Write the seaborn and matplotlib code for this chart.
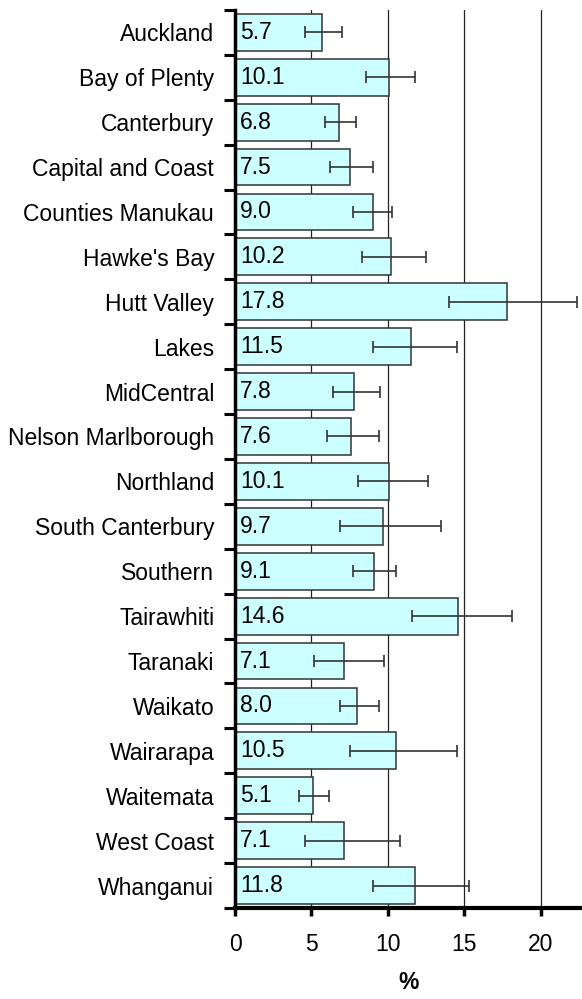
import numpy as np
import pandas as pd
import matplotlib
matplotlib.use("Agg")
import matplotlib.pyplot as plt
import seaborn as sns

regions = ["Auckland", "Bay of Plenty", "Canterbury", "Capital and Coast",
           "Counties Manukau", "Hawke's Bay", "Hutt Valley", "Lakes",
           "MidCentral", "Nelson Marlborough", "Northland", "South Canterbury",
           "Southern", "Tairawhiti", "Taranaki", "Waikato", "Wairarapa",
           "Waitemata", "West Coast", "Whanganui"]
rate = [5.7, 10.1, 6.8, 7.5, 9.0, 10.2, 17.8, 11.5, 7.8, 7.6,
        10.1, 9.7, 9.1, 14.6, 7.1, 8.0, 10.5, 5.1, 7.1, 11.8]
ci_low = [4.6, 8.6, 5.9, 6.2, 7.75, 8.3, 14.0, 9.05, 6.4, 6.0,
          8.05, 6.85, 7.75, 11.6, 5.2, 6.85, 7.5, 4.2, 4.6, 9.0]
ci_high = [7.0, 11.8, 7.9, 9.0, 10.3, 12.5, 22.35, 14.5, 9.5, 9.45,
           12.6, 13.45, 10.55, 18.15, 9.75, 9.45, 14.5, 6.15, 10.8, 15.3]

df = pd.DataFrame({"region": regions, "rate": rate})

sns.set_style("white")
plt.rcParams["font.family"] = ["Liberation Sans", "DejaVu Sans"]
plt.rcParams["text.color"] = "black"
plt.rcParams["xtick.color"] = "black"
plt.rcParams["ytick.color"] = "black"
plt.rcParams["axes.labelcolor"] = "black"

fig = plt.figure(figsize=(5.82, 9.99), dpi=100)
ax = fig.add_axes([0.4038, 0.0911, 0.5962, 0.899])

for g in [5, 10, 15, 20]:
    ax.axvline(g, color="#222222", lw=0.9, zorder=0)

sns.barplot(data=df, x="rate", y="region", orient="h", color="#CCFFFF",
            edgecolor="#333333", linewidth=1.1, width=0.82, errorbar=None,
            saturation=1, ax=ax, zorder=2)

err = np.array([np.array(rate) - np.array(ci_low), np.array(ci_high) - np.array(rate)])
ax.errorbar(rate, np.arange(len(regions)), xerr=err, fmt="none", ecolor="#333333",
            elinewidth=1.2, capsize=4, capthick=1.2, zorder=3)

for i, v in enumerate(rate):
    ax.text(0.35, i, f"{v:.1f}", va="center", ha="left", fontsize=16.5, zorder=4)

ax.set_xlim(0, 22.7)
ax.set_ylim(19.5, -0.5)
ax.set_xticks([0, 5, 10, 15, 20])
ax.set_yticks(np.arange(len(regions)))
ax.set_yticklabels(regions)
ax.set_yticks(np.arange(-0.5, len(regions), 1), minor=True)
ax.tick_params(axis="y", which="major", length=0, pad=15, labelsize=16.5)
ax.tick_params(axis="y", which="minor", length=8, width=2.2, direction="out", left=True)
ax.tick_params(axis="x", which="major", length=6, width=2.5, direction="out",
               bottom=True, pad=12, labelsize=16.5)
ax.set_xlabel("%", fontsize=16.5, fontweight="bold", labelpad=11)
ax.set_ylabel("")

for s in ["top", "right"]:
    ax.spines[s].set_visible(False)
ax.spines["left"].set_linewidth(2.5)
ax.spines["bottom"].set_linewidth(3)
ax.spines["left"].set_color("black")
ax.spines["bottom"].set_color("black")

fig.savefig("out.png", dpi=100)
